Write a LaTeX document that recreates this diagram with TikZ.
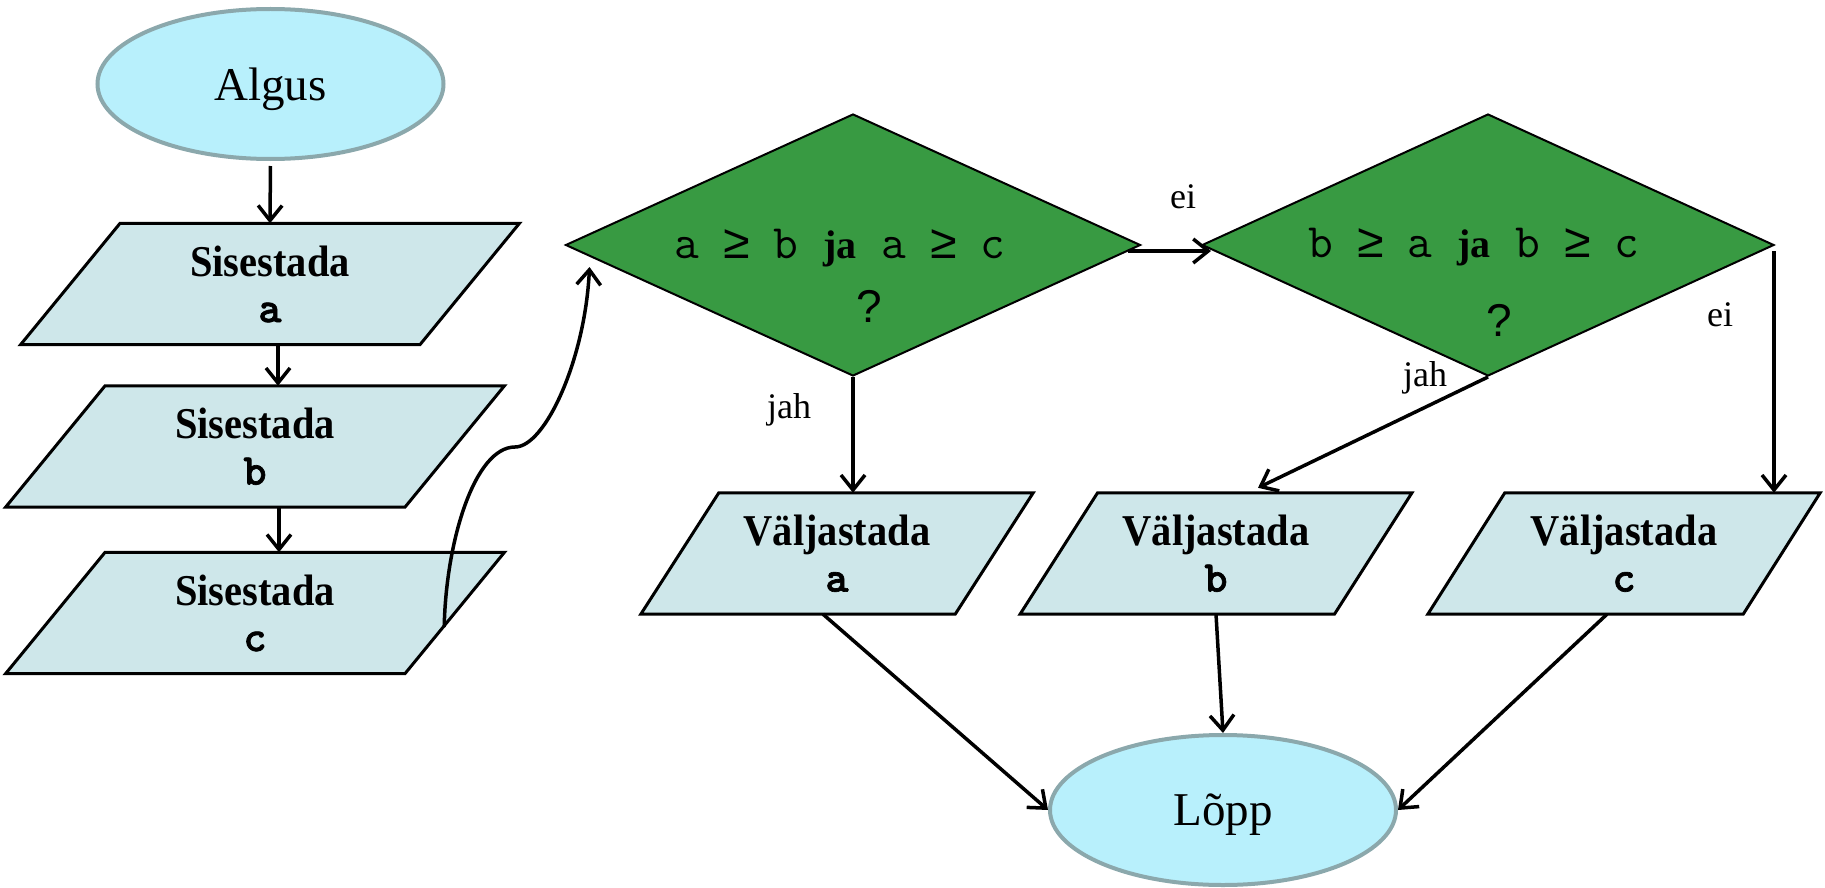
\documentclass[tikz,border=0pt]{standalone}
\usepackage{fontspec}
\setmainfont{Liberation Serif}
\setsansfont{Liberation Sans}
\newfontfamily\titlefont[FakeStretch=0.92]{Liberation Serif}
\newfontfamily\symmono{Liberation Mono}
\newfontfamily\codefont[FakeBold=1.5]{lmmonolt10-bold.otf}
\usetikzlibrary{shapes.geometric,arrows.meta,calc,backgrounds}

\definecolor{termfill}{HTML}{B8F0FC}
\definecolor{termline}{HTML}{8BA8AC}
\definecolor{iofill}{HTML}{CEE7EA}
\definecolor{condfill}{HTML}{389A42}

\tikzset{
  term/.style={ellipse, fill=termfill, draw=termline, line width=4pt,
    minimum width=346pt, minimum height=150pt, inner sep=0pt, text depth=0pt,
    font=\fontsize{47}{50}\selectfont},
  iobox/.style={rectangle, inner sep=0pt, minimum width=#1, minimum height=121pt,
    align=center, font=\fontsize{44}{46}\selectfont},
  ioedge/.style={fill=iofill, draw=black, line width=3pt, line join=miter},
  cond/.style={diamond, fill=condfill, draw=black, line width=2pt,
    minimum width=575pt, minimum height=262pt, inner sep=0pt},
  condtext/.style={anchor=base, inner sep=0pt, font=\fontsize{48}{48}\selectfont\ttfamily},
  qmark/.style={anchor=base, inner sep=0pt, font=\fontsize{46}{46}\selectfont\sffamily},
  flowlabel/.style={anchor=base, inner sep=0pt, font=\fontsize{36}{36}\selectfont},
  arr/.style={-{Straight Barb[length=15pt,width=24pt]}, line width=3.5pt},
}

% parallelogram behind an input/output node: #1 node, #2 horizontal slant
\newcommand\ioshape[2]{%
  \path[ioedge] ($(#1.north west)+(#2/2,0)$) -- ($(#1.north east)+(#2/2,0)$)
    -- ($(#1.south east)-(#2/2,0)$) -- ($(#1.south west)-(#2/2,0)$) -- cycle;}
\newcommand\iotitle[2]{{\titlefont\bfseries #1}\\{\fontsize{44}{44}\selectfont\codefont #2}}
% one typewriter cell holding the "greater or equal" sign
\newcommand\mge{\makebox[0.525em]{\symmono ≥}}
\newcommand\andword{{\rmfamily\bfseries\fontsize{40}{40}\selectfont ja}}

\begin{document}
\begin{tikzpicture}[x=1pt,y=-1pt]
\useasboundingbox (0,0) rectangle (1825,888);

% terminals
\node[term] (algus) at (270.5,84) {Algus};
\node[term] (lopp) at (1223,810) {Lõpp};

% input boxes
\node[iobox=399pt] (sisa) at (270,284) {\iotitle{Sisestada}{a}};
\node[iobox=399pt] (sisb) at (255,446.5) {\iotitle{Sisestada}{b}};
\node[iobox=399pt] (sisc) at (255,613) {\iotitle{Sisestada}{c}};

% output boxes
\node[iobox=314pt] (va) at (837,553.5) {\iotitle{Väljastada}{a}};
\node[iobox=314pt] (vb) at (1216,553.5) {\iotitle{Väljastada}{b}};
\node[iobox=315pt] (vc) at (1624,553.5) {\iotitle{Väljastada}{c}};

\begin{scope}[on background layer]
  \ioshape{sisa}{99.5}
  \ioshape{sisb}{99.5}
  \ioshape{sisc}{99.5}
  \ioshape{va}{78}
  \ioshape{vb}{77.5}
  \ioshape{vc}{77}
\end{scope}

% decisions
\node[cond] (d1) at (853,245) {};
\node[cond, minimum width=572pt] (d2) at (1488,245) {};
\node[condtext] (c1) at (840,258) {a \mge{} b \andword{} a \mge{} c};
\node[qmark] (qm1) at (869,322) {?};
\node[condtext] (c2) at (1474,257) {b \mge{} a \andword{} b \mge{} c};
\node[qmark] (qm2) at (1499,336) {?};

% input sequence
\draw[arr, shorten <=5pt] (algus.south) -- (sisa.north);
\draw[arr] ([xshift=8pt]sisa.south) -- ([xshift=8pt]sisa.south |- sisb.north);
\draw[arr] ([xshift=24pt]sisb.south) -- ([xshift=24pt]sisb.south |- sisc.north);

% link from the last input to the first decision
\coordinate (loopstart) at ($(sisc.east)+(-10.5,14)$);
\coordinate (loopend) at ($(d1.west)+(25,22)$);
\draw[arr] (loopstart) .. controls (446,540) and (475,447) .. (515,447)
  .. controls (545,447) and (585,360) .. (loopend);

% decision branches
\draw[arr] ($(d1.east)+(-14,6)$) -- ($(d2.west)+(10,6)$);
\draw[arr] (d1.south) -- (d1.south |- va.north);
\draw[arr] (d2.south) -- ($(vb.north)+(42,-5)$);
\coordinate (d2out) at ($(d2.east)+(-1,6)$);
\draw[arr] (d2out) -- (d2out |- vc.north);

\node[flowlabel] (l1) at (1183,208) {ei};
\node[flowlabel] (l2) at (789,418) {jah};
\node[flowlabel] (l3) at (1425,386) {jah};
\node[flowlabel] (l4) at (1720,326) {ei};

% outputs to the end
\draw[arr] ($(va.south)+(-14,0)$) -- (lopp.west);
\draw[arr] (vb.south) -- (lopp.north);
\draw[arr] ($(vc.south)+(-17,0)$) -- (lopp.east);
\end{tikzpicture}
\end{document}
